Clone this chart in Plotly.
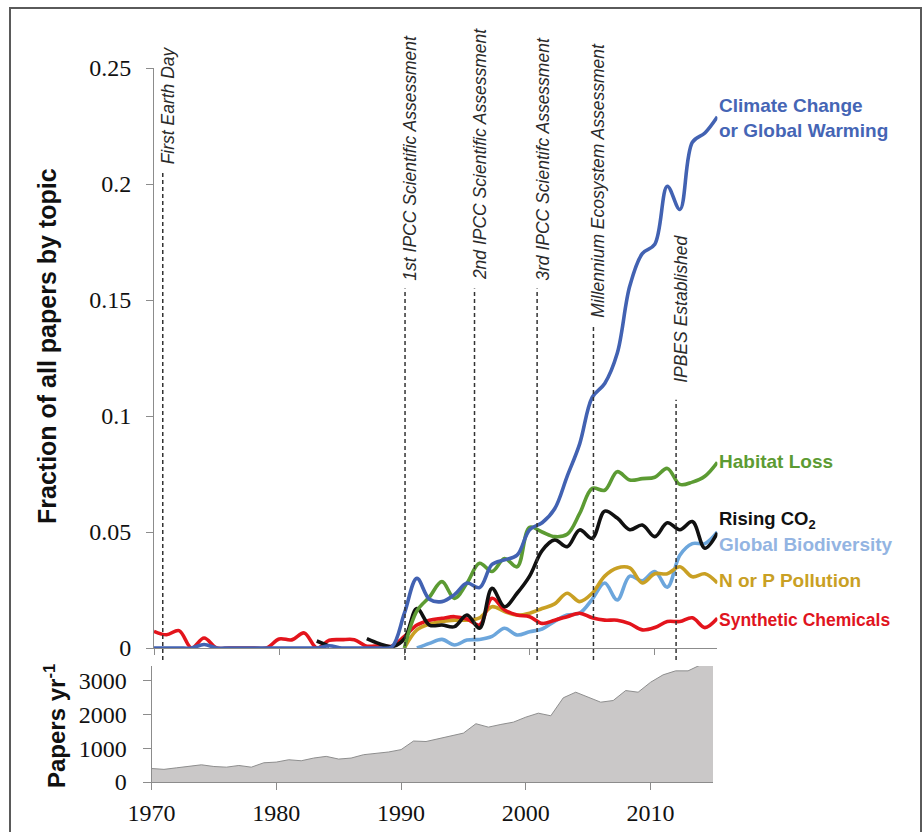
import plotly.graph_objects as go

years = list(range(1970, 2016))

climate = [0, 0, 0, 0, 0.0015, 0, 0, 0, 0, 0,
           0, 0, 0, 0, 0.001, 0, 0, 0, 0, 0.0005,
           0.015, 0.030, 0.021, 0.020, 0.023, 0.028, 0.026, 0.036, 0.038, 0.040,
           0.051, 0.054, 0.060, 0.074, 0.088, 0.108, 0.114, 0.127, 0.156, 0.170,
           0.174, 0.199, 0.189, 0.218, 0.222, 0.229]

habitat = [None] * 20 + [0.0, 0.016, 0.022, 0.0286, 0.0214, 0.028, 0.0365, 0.033, 0.0386, 0.035,
                         0.052, 0.050, 0.048, 0.049, 0.058, 0.0688, 0.068, 0.076, 0.0724, 0.073,
                         0.0736, 0.0774, 0.0705, 0.0715, 0.074, 0.080]

co2 = [None] * 13 + [0.003, 0.0008, None, None, 0.004, 0.0018, 0.0006,
                     0.004, 0.017, 0.0099, 0.0099, 0.0092, 0.0142, 0.0085, 0.0257, 0.0178, 0.0236,
                     0.031, 0.042, 0.0466, 0.0437, 0.0509, 0.0473, 0.059, 0.056, 0.051, 0.053,
                     0.048, 0.054, 0.051, 0.0545, 0.043, 0.0496]

biodiversity = [None] * 21 + [0.0, 0.002, 0.0037, 0.0013, 0.0034, 0.0037, 0.005, 0.0085, 0.0056,
                              0.007, 0.0082, 0.0115, 0.0142, 0.015, 0.021, 0.028, 0.0207, 0.031, 0.029,
                              0.033, 0.0262, 0.040, 0.045, 0.045, 0.050]

nitrogen = [None] * 20 + [0.0, 0.0078, 0.0103, 0.0114, 0.012, 0.012, 0.013, 0.0178, 0.0157, 0.0142,
                          0.015, 0.017, 0.019, 0.0236, 0.020, 0.0236, 0.031, 0.0345, 0.0345, 0.028,
                          0.032, 0.032, 0.035, 0.0307, 0.032, 0.028]

chemicals = [0.0072, 0.0057, 0.0075, 0.0, 0.0043, 0, 0, 0, 0, 0,
             0.0039, 0.0035, 0.0065, 0.0, 0.0033, 0.0036, 0.0036, 0.0008, 0.001, 0.0008,
             0.005, 0.0099, 0.012, 0.0128, 0.0135, 0.0125, 0.0099, 0.0214, 0.0164, 0.0142,
             0.0135, 0.0106, 0.012, 0.0135, 0.015, 0.0130, 0.012, 0.012, 0.0105, 0.0078,
             0.0088, 0.0114, 0.0114, 0.0130, 0.0088, 0.0128]

papers = [400, 375, 420, 470, 510, 460, 440, 490, 440, 570,
          590, 660, 630, 710, 760, 680, 710, 810, 850, 890,
          960, 1215, 1200, 1283, 1352, 1450, 1728, 1627, 1707, 1775,
          1923, 2041, 1964, 2497, 2663, 2515, 2367, 2416, 2712, 2663,
          2959, 3178, 3296, 3296, 3473, 3480]

series_names = ["Climate Change or Global Warming", "Habitat Loss", "Rising CO2",
                "Global Biodiversity", "N or P Pollution", "Synthetic Chemicals"]
label_texts = ["Climate Change<br>or Global Warming", "Habitat Loss", "Rising CO<sub>2</sub>",
               "Global Biodiversity", "N or P Pollution", "Synthetic Chemicals"]
label_y = [0.2284, 0.0802, 0.0552, 0.0448, 0.0289, 0.0121]
label_sizes = [19, 19, 18.5, 19, 19, 17.5]
line_colors = ["#4262b2", "#5c9b33", "#111111", "#6ca6dc", "#c9a024", "#e3141c"]
label_colors = ["#4565b5", "#5c9b33", "#111111", "#93b4e2", "#c9a024", "#e0141e"]

event_names = ["First Earth Day", "1st IPCC Scientific Assessment", "2nd IPCC Scientific Assessment",
               "3rd IPCC Scientifc Assessment", "Millennium Ecosystem Assessment", "IPBES Established"]
event_years = [1970.7, 1990.05, 1995.6, 2000.6, 2005.1, 2011.7]
event_text_y = [0.2075, 0.1575, 0.1575, 0.1575, 0.1415, 0.1135]
event_line_top = [0.206, 0.155, 0.155, 0.155, 0.139, 0.107]

W, H = 923, 832
top_x_dom = [154 / W, 717.4 / W]
top_y_dom = [(H - 648) / H, (H - 68) / H]
bot_x_dom = [151.5 / W, 713 / W]
bot_y_dom = [(H - 782) / H, (H - 666) / H]
top_range = [0, 0.25]
bot_range = [0, 3440]

serif = "Liberation Serif, Times New Roman, serif"
sans = "Liberation Sans, Arial, sans-serif"
axis_col = "#8c8c8c"

fig = go.Figure()

# bottom panel
fig.add_trace(go.Scatter(x=years, y=papers, mode="lines", fill="tozeroy",
                         fillcolor="#cac8c8", line=dict(color="#8e8e8e", width=1),
                         xaxis="x2", yaxis="y2", showlegend=False, hoverinfo="skip"))

data = [climate, habitat, co2, biodiversity, nitrogen, chemicals]
order = [3, 4, 5, 2, 1, 0]
for i in order:
    fig.add_trace(go.Scatter(x=years, y=data[i], mode="lines", name=series_names[i],
                             line=dict(color=line_colors[i], width=3.6, shape="spline", smoothing=1.0),
                             connectgaps=False, showlegend=False, xaxis="x", yaxis="y"))


def to_paper(v):
    return top_y_dom[0] + (v - top_range[0]) / (top_range[1] - top_range[0]) * (top_y_dom[1] - top_y_dom[0])


shapes = []
annotations = []
for name, yr, ty, lt in zip(event_names, event_years, event_text_y, event_line_top):
    shapes.append(dict(type="line", xref="x", yref="paper", x0=yr, x1=yr,
                       y0=to_paper(-0.0052), y1=to_paper(lt),
                       line=dict(color="#333333", width=1.5, dash="4px,3px"), layer="above"))
    annotations.append(dict(text="<i>" + name + "</i>", x=yr, y=ty, xref="x", yref="y",
                            textangle=-90, showarrow=False, xanchor="center", yanchor="bottom",
                            xshift=5, font=dict(family=sans, size=17.5, color="#2a2a2a")))

for txt, ly, col, fs in zip(label_texts, label_y, label_colors, label_sizes):
    annotations.append(dict(text="<b>" + txt + "</b>", x=2015, y=ly, xref="x", yref="y",
                            showarrow=False, xanchor="left", yanchor="middle", xshift=0,
                            align="left", font=dict(family=sans, size=fs, color=col)))

annotations.append(dict(text="<b>Fraction of all papers by topic</b>", x=47 / W, y=(H - 346) / H,
                        xref="paper", yref="paper", textangle=-90, showarrow=False,
                        xanchor="center", yanchor="middle",
                        font=dict(family=sans, size=25, color="#111111")))
annotations.append(dict(text="<b>Papers yr<sup>-1</sup></b>", x=55 / W, y=(H - 726) / H,
                        xref="paper", yref="paper", textangle=-90, showarrow=False,
                        xanchor="center", yanchor="middle",
                        font=dict(family=sans, size=24, color="#111111")))

# outer frame
shapes.append(dict(type="rect", xref="paper", yref="paper", x0=10 / W, x1=921 / W,
                   y0=-0.02, y1=(H - 8) / H, line=dict(color="#5a5a5a", width=2),
                   fillcolor="rgba(0,0,0,0)", layer="below"))

tick_font = dict(family=serif, size=24, color="#111111")

fig.update_layout(
    width=W, height=H,
    margin=dict(l=0, r=0, t=0, b=0, pad=0, autoexpand=False),
    paper_bgcolor="white", plot_bgcolor="white",
    showlegend=False,
    shapes=shapes, annotations=annotations,
    xaxis=dict(domain=top_x_dom, range=[1970, 2015], anchor="y", automargin=False,
               showgrid=False, zeroline=False, showline=True, linecolor=axis_col, linewidth=1,
               ticks="outside", ticklen=6, tickcolor=axis_col, tickvals=[1970, 1980, 1990, 2000, 2010],
               showticklabels=False),
    yaxis=dict(domain=top_y_dom, range=top_range, anchor="x", automargin=False,
               showgrid=False, zeroline=False, showline=True, linecolor=axis_col, linewidth=1,
               ticks="outside", ticklen=7, tickcolor=axis_col,
               tickvals=[0, 0.05, 0.1, 0.15, 0.2, 0.25],
               ticktext=["0", "0.05", "0.1", "0.15", "0.2", "0.25"],
               tickfont=tick_font, ticklabelstandoff=10),
    xaxis2=dict(domain=bot_x_dom, range=[1970, 2015], anchor="y2", automargin=False,
                showgrid=False, zeroline=False, showline=True, linecolor=axis_col, linewidth=1,
                ticks="outside", ticklen=7, tickcolor=axis_col,
                tickvals=[1970, 1980, 1990, 2000, 2010], tickfont=tick_font, ticklabelstandoff=2),
    yaxis2=dict(domain=bot_y_dom, range=bot_range, anchor="x2", automargin=False,
                showgrid=False, zeroline=False, showline=True, linecolor=axis_col, linewidth=1,
                ticks="outside", ticklen=8, tickcolor=axis_col,
                tickvals=[0, 1000, 2000, 3000], tickfont=tick_font, ticklabelstandoff=11),
)

fig.write_html("out.html", config={"displayModeBar": False},
               post_script="document.body.style.margin='0';document.body.style.overflow='hidden';")
